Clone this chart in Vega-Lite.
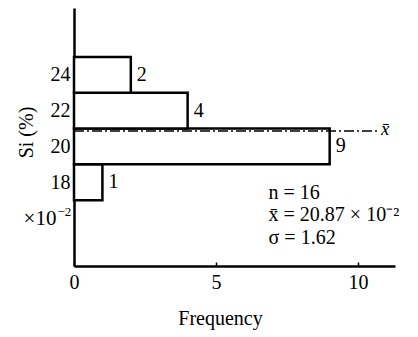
{
  "$schema": "https://vega.github.io/schema/vega-lite/v6.json",
  "width": 321,
  "height": 258,
  "autosize": "none",
  "padding": {"left": 74, "top": 8, "right": 23, "bottom": 71},
  "background": "white",
  "config": {
    "view": {"stroke": null},
    "font": "Liberation Serif",
    "text": {"font": "Liberation Serif", "fontSize": 20},
    "axis": {
      "grid": false,
      "domainColor": "black",
      "domainWidth": 2.5,
      "tickColor": "black",
      "tickWidth": 1.5,
      "labelColor": "black",
      "titleColor": "black",
      "labelFont": "Liberation Serif",
      "titleFont": "Liberation Serif",
      "labelFontSize": 20,
      "titleFontSize": 20,
      "titleFontWeight": "normal"
    }
  },
  "datasets": {
    "bins": [
      {"lo": 17, "hi": 19, "mid": 18, "count": 1},
      {"lo": 19, "hi": 21, "mid": 20, "count": 9},
      {"lo": 21, "hi": 23, "mid": 22, "count": 4},
      {"lo": 23, "hi": 25, "mid": 24, "count": 2}
    ],
    "stats": [
      {"label": "n = 16", "x": 6.85, "y": 17.4},
      {"label": "x̄ = 20.87 × 10⁻²", "x": 6.85, "y": 16.15},
      {"label": "σ = 1.62", "x": 6.85, "y": 14.9}
    ]
  },
  "layer": [
    {
      "data": {"name": "bins"},
      "mark": {"type": "bar", "fill": "white", "stroke": "black", "strokeWidth": 2.5},
      "encoding": {
        "x": {
          "field": "count", "type": "quantitative",
          "scale": {"domain": [0, 11.3], "nice": false, "zero": false},
          "axis": {"values": [0, 5, 10], "title": "Frequency", "tickSize": -4, "labelPadding": 10, "titlePadding": 16, "labelFlush": false, "titleX": 146}
        },
        "x2": {"datum": 0},
        "y": {
          "field": "lo", "type": "quantitative",
          "scale": {"domain": [13.32, 27.74], "nice": false, "zero": false},
          "axis": {"values": [18, 20, 22, 24], "title": "Si (%)", "tickSize": -5, "labelPadding": 9, "titlePadding": 14, "labelFlush": false, "titleY": 124}
        },
        "y2": {"field": "hi"}
      }
    },
    {
      "data": {"name": "bins"},
      "mark": {"type": "text", "align": "left", "baseline": "middle", "dx": 6},
      "encoding": {
        "x": {"field": "count", "type": "quantitative"},
        "y": {"field": "mid", "type": "quantitative"},
        "text": {"field": "count"}
      }
    },
    {
      "data": {"values": [{"m": 20.87, "x0": 0, "x1": 10.7, "lab": "x̄"}]},
      "layer": [
        {
          "mark": {"type": "rule", "stroke": "black", "strokeWidth": 1.5, "strokeDash": [10, 3, 2, 3]},
          "encoding": {
            "x": {"field": "x0", "type": "quantitative"},
            "x2": {"field": "x1"},
            "y": {"field": "m", "type": "quantitative"}
          }
        },
        {
          "mark": {"type": "text", "align": "left", "baseline": "middle", "dx": 3, "dy": -2, "fontSize": 19, "fontStyle": "italic"},
          "encoding": {
            "x": {"field": "x1", "type": "quantitative"},
            "y": {"field": "m", "type": "quantitative"},
            "text": {"field": "lab"}
          }
        }
      ]
    },
    {
      "data": {"name": "stats"},
      "mark": {"type": "text", "align": "left", "baseline": "middle"},
      "encoding": {
        "x": {"field": "x", "type": "quantitative"},
        "y": {"field": "y", "type": "quantitative"},
        "text": {"field": "label"}
      }
    },
    {
      "data": {"values": [{"t": "×10", "x": -0.62, "y": 15.95}]},
      "mark": {"type": "text", "align": "right", "baseline": "middle", "fontSize": 21, "clip": false},
      "encoding": {
        "x": {"field": "x", "type": "quantitative"},
        "y": {"field": "y", "type": "quantitative"},
        "text": {"field": "t"}
      }
    },
    {
      "data": {"values": [{"t": "−2", "x": -0.62, "y": 15.95}]},
      "mark": {"type": "text", "align": "left", "baseline": "middle", "fontSize": 13, "dx": 1, "dy": -7, "clip": false},
      "encoding": {
        "x": {"field": "x", "type": "quantitative"},
        "y": {"field": "y", "type": "quantitative"},
        "text": {"field": "t"}
      }
    }
  ]
}
